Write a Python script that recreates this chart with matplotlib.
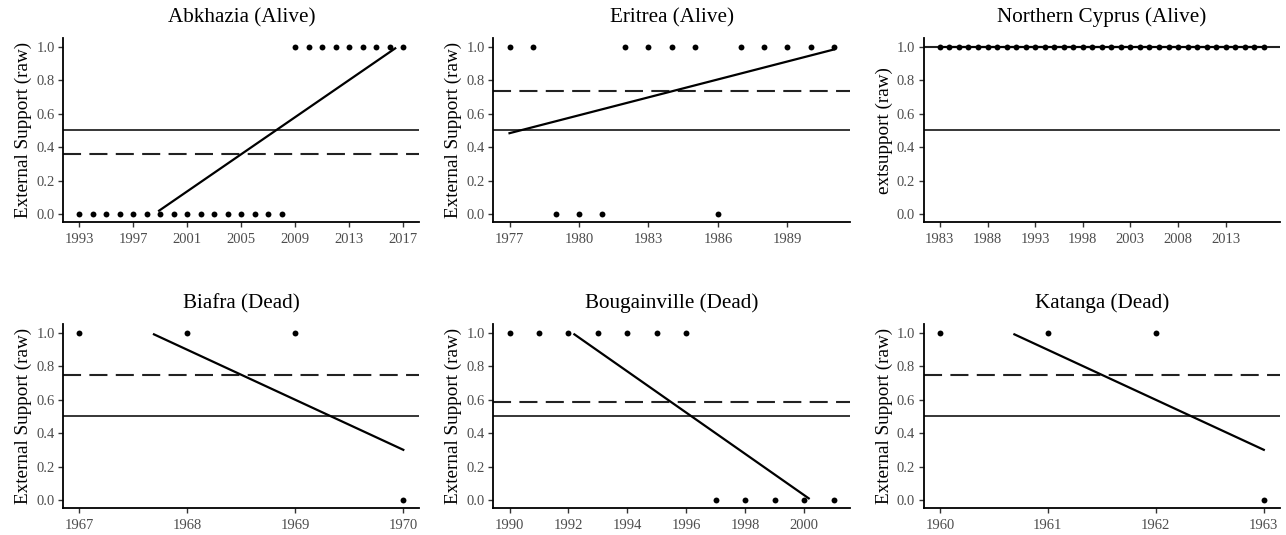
import matplotlib
matplotlib.use("Agg")
import matplotlib.pyplot as plt

plt.rcParams['font.family'] = ['Liberation Serif', 'DejaVu Serif']
plt.rcParams['lines.scale_dashes'] = False

# ---- data ----
titles = ["Abkhazia (Alive)", "Eritrea (Alive)", "Northern Cyprus (Alive)",
          "Biafra (Dead)", "Bougainville (Dead)", "Katanga (Dead)"]
ylabels = ["External Support (raw)", "External Support (raw)", "extsupport (raw)",
           "External Support (raw)", "External Support (raw)", "External Support (raw)"]

abkhazia_years = list(range(1993, 2018))
abkhazia_support = [0] * 16 + [1] * 9
abkhazia_mean = 0.36
abkhazia_trend_years = [1998.9, 2016.4]
abkhazia_trend_values = [0.02, 0.99]
abkhazia_ticks = [1993, 1997, 2001, 2005, 2009, 2013, 2017]

eritrea_years = list(range(1977, 1992))
eritrea_support = [1, 1, 0, 0, 0, 1, 1, 1, 1, 0, 1, 1, 1, 1, 1]
eritrea_mean = 0.733
eritrea_trend_years = [1977, 1991]
eritrea_trend_values = [0.483, 0.983]
eritrea_ticks = [1977, 1980, 1983, 1986, 1989]

ncyprus_years = list(range(1983, 2018))
ncyprus_support = [1] * 35
ncyprus_mean = 1.0
ncyprus_trend_years = [1983, 2017]
ncyprus_trend_values = [1.0, 1.0]
ncyprus_ticks = [1983, 1988, 1993, 1998, 2003, 2008, 2013]

biafra_years = [1967, 1968, 1969, 1970]
biafra_support = [1, 1, 1, 0]
biafra_mean = 0.75
biafra_trend_years = [1967.69, 1970]
biafra_trend_values = [0.99, 0.30]
biafra_ticks = [1967, 1968, 1969, 1970]

bougainville_years = list(range(1990, 2002))
bougainville_support = [1] * 7 + [0] * 5
bougainville_mean = 0.583
bougainville_trend_years = [1992.2, 2000.15]
bougainville_trend_values = [0.99, 0.01]
bougainville_ticks = [1990, 1992, 1994, 1996, 1998, 2000]

katanga_years = [1960, 1961, 1962, 1963]
katanga_support = [1, 1, 1, 0]
katanga_mean = 0.75
katanga_trend_years = [1960.69, 1963]
katanga_trend_values = [0.99, 0.30]
katanga_ticks = [1960, 1961, 1962, 1963]

threshold = 0.5
yticks = [0.0, 0.2, 0.4, 0.6, 0.8, 1.0]

panels = [
    (abkhazia_years, abkhazia_support, abkhazia_mean, abkhazia_trend_years, abkhazia_trend_values, abkhazia_ticks),
    (eritrea_years, eritrea_support, eritrea_mean, eritrea_trend_years, eritrea_trend_values, eritrea_ticks),
    (ncyprus_years, ncyprus_support, ncyprus_mean, ncyprus_trend_years, ncyprus_trend_values, ncyprus_ticks),
    (biafra_years, biafra_support, biafra_mean, biafra_trend_years, biafra_trend_values, biafra_ticks),
    (bougainville_years, bougainville_support, bougainville_mean, bougainville_trend_years, bougainville_trend_values, bougainville_ticks),
    (katanga_years, katanga_support, katanga_mean, katanga_trend_years, katanga_trend_values, katanga_ticks),
]

# ---- layout (pixels) ----
W, H = 1286, 535
fig = plt.figure(figsize=(W / 100, H / 100), dpi=100)
col_x = [(63.3, 419.5), (493.3, 850.0), (923.7, 1280.0)]
row_y = [(38.3, 222.4), (324.3, 508.4)]

for i, (yrs, vals, mean, ty, tv, ticks) in enumerate(panels):
    r, c = divmod(i, 3)
    x0, x1 = col_x[c]
    yt, yb = row_y[r]
    ax = fig.add_axes([x0 / W, 1 - yb / H, (x1 - x0) / W, (yb - yt) / H])
    span = yrs[-1] - yrs[0]
    ax.set_xlim(yrs[0] - 0.05 * span, yrs[-1] + 0.05 * span)
    ax.set_ylim(-0.05, 1.05)
    ax.axhline(threshold, color='black', lw=1.1, zorder=1)
    ax.axhline(mean, color='#222222', lw=1.5, dashes=(13, 6), zorder=1)
    ax.plot(ty, tv, color='black', lw=1.6, zorder=2)
    ax.scatter(yrs, vals, s=18, color='black', zorder=3, linewidths=0)
    ax.set_xticks(ticks)
    ax.set_yticks(yticks)
    ax.set_yticklabels([f"{v:.1f}" for v in yticks])
    ax.tick_params(labelsize=10.5, labelcolor='#4d4d4d', length=3.6, width=1.0, color='#333333')
    ax.tick_params(axis='x', pad=3.8)
    ax.tick_params(axis='y', pad=2.5)
    for s in ('top', 'right'):
        ax.spines[s].set_visible(False)
    for s in ('left', 'bottom'):
        ax.spines[s].set_linewidth(1.3)
    ax.set_ylabel(ylabels[i], fontsize=13.8, labelpad=3)
    ax.set_title(titles[i], fontsize=15.2, pad=11.5)

fig.savefig("out.png", dpi=100)
